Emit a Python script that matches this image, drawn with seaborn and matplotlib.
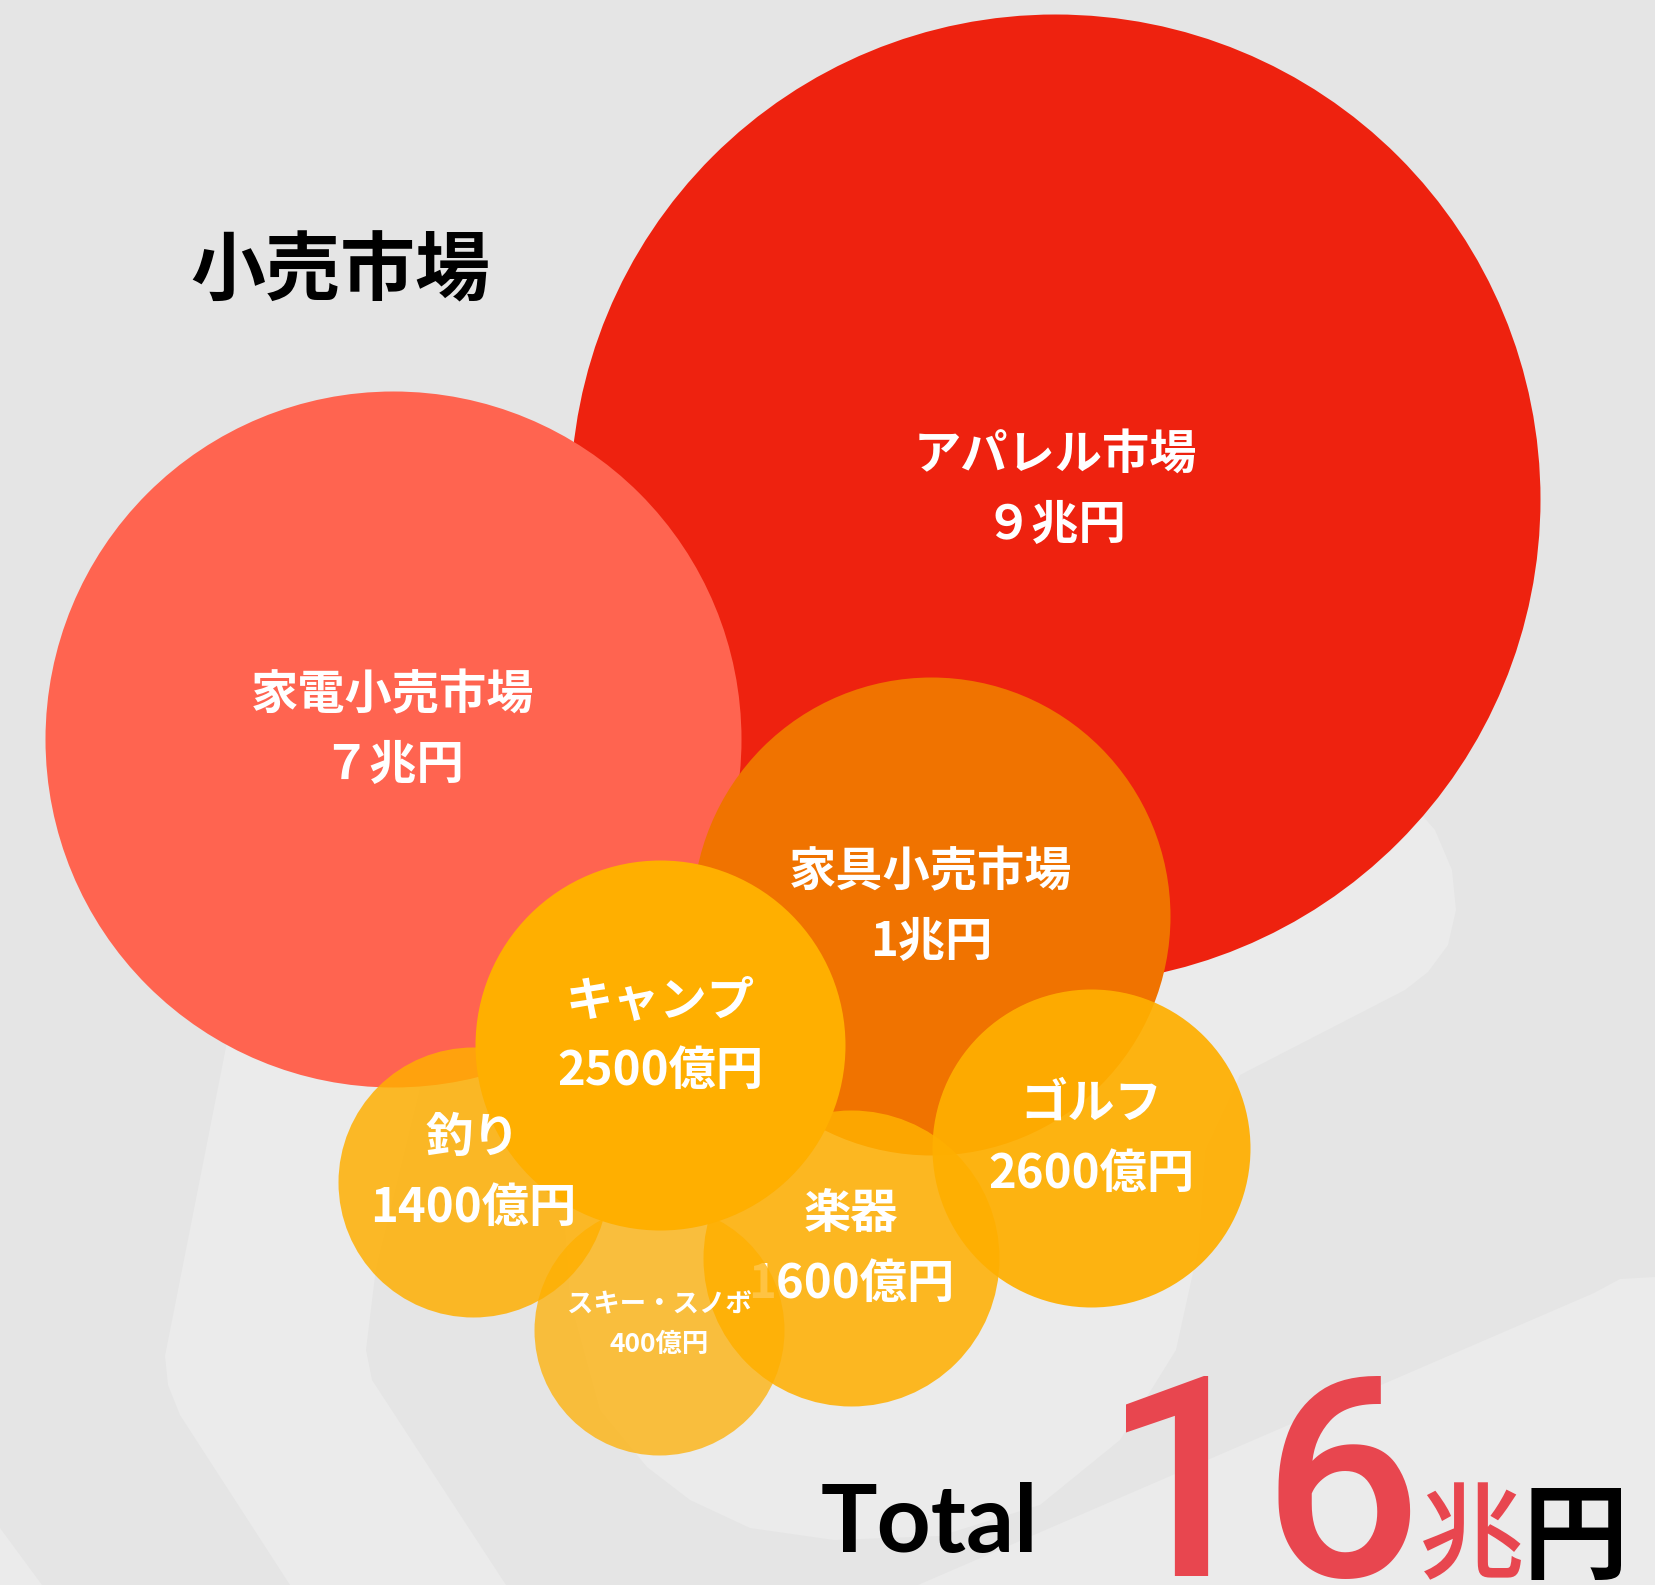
import matplotlib
matplotlib.use('Agg')
import matplotlib.pyplot as plt
import seaborn as sns
from matplotlib.patches import Polygon

# market names and their sizes as printed on the chart
markets = ['アパレル市場', '家電小売市場', '家具小売市場', '楽器', 'スキー・スノボ', '釣り', 'ゴルフ', 'キャンプ']
amount_labels = ['９兆円', '７兆円', '1兆円', '1600億円', '400億円', '1400億円', '2600億円', '2500億円']
amount_oku = [90000, 70000, 10000, 1600, 400, 1400, 2600, 2500]
title = '小売市場'
total_number = '16'

# bubble layout in pixels (draw order = stacking order)
bubble_x = [1055, 393, 931, 851, 659, 473, 1091, 660]
bubble_y = [499, 739, 916, 1258, 1330, 1182, 1148, 1045]
bubble_r = [485, 348, 239, 148, 125, 135, 159, 185]
bubble_color = ['#EE220F', '#FF6450', '#F07300', '#FFAF00', '#FFAF00', '#FFAF00', '#FFAF00', '#FFAF00']
bubble_alpha = [1.0, 1.0, 1.0, 0.86, 0.74, 0.84, 0.93, 1.0]
label_size = [34, 34, 34, 34, 19, 34, 34, 34]

W, H = 1655, 1585
sns.set_theme(style='white')
plt.rcParams['font.family'] = ['Noto Sans CJK JP', 'DejaVu Sans']

fig = plt.figure(figsize=(W / 100, H / 100), dpi=100, facecolor='#E5E5E5')
ax = fig.add_axes([0, 0, 1, 1])
ax.set_facecolor('#E5E5E5')

# faint lighter bands in the background
bands = [
    [(240, 975), (440, 1000), (418, 1096), (376, 1268), (366, 1350), (372, 1380), (506, 1585),
     (290, 1585), (180, 1415), (168, 1385), (165, 1356), (227, 1042)],
    [(0, 1528), (42, 1585), (0, 1585)],
    [(1000, 780), (1400, 790), (1435, 830), (1452, 870), (1456, 910), (1448, 945), (1428, 972),
     (1405, 990), (1240, 1075), (1205, 1150), (1198, 1250), (1176, 1350), (1120, 1440),
     (1040, 1505), (940, 1536), (834, 1540), (750, 1528), (690, 1500), (647, 1467), (600, 1410),
     (570, 1300), (560, 1150), (700, 900)],
    [(1594, 1293), (1620, 1279), (1655, 1277), (1655, 1585), (918, 1585)],
]
for b in bands:
    ax.add_patch(Polygon(b, closed=True, fc='#EBEBEB', ec='none', zorder=0.5))

for i in range(len(markets)):
    z = 2 + i
    sns.scatterplot(x=[bubble_x[i]], y=[bubble_y[i]], s=(1.44 * bubble_r[i]) ** 2,
                    color=bubble_color[i], alpha=bubble_alpha[i], linewidth=0,
                    zorder=z, ax=ax, legend=False)
    fs = label_size[i]
    # the 楽器 label sits under the ski bubble, the rest stay on top
    tz = z + 0.5 if markets[i] == '楽器' else 20
    ax.text(bubble_x[i], bubble_y[i] - 1.3 * fs, markets[i], color='white', fontsize=fs,
            fontweight='bold', ha='center', va='center', zorder=tz)
    ax.text(bubble_x[i], bubble_y[i] + 0.76 * fs, amount_labels[i], color='white', fontsize=fs,
            fontweight='bold', ha='center', va='center', zorder=tz)

ax.text(340, 272, title, fontsize=54, fontweight='bold', color='black', ha='center', va='center', zorder=20)

ax.text(821, 1552, 'Total', fontsize=68, fontweight='bold', color='black', ha='left', va='baseline',
        family=['Lato', 'DejaVu Sans'], zorder=20)
ax.text(1262, 1576, total_number, fontsize=202, fontweight='medium', color='#E8464F',
        ha='center', va='baseline', family=['Roboto', 'DejaVu Sans'], zorder=20)
ax.text(1472, 1540, '兆', fontsize=76, fontweight='medium', color='#E8464F', ha='center', va='center', zorder=20)
ax.text(1575, 1540, '円', fontsize=76, fontweight='bold', color='black', ha='center', va='center', zorder=20)

ax.set_xlim(0, W)
ax.set_ylim(H, 0)
ax.set_axis_off()

fig.savefig('out.png', dpi=100, facecolor=fig.get_facecolor())
